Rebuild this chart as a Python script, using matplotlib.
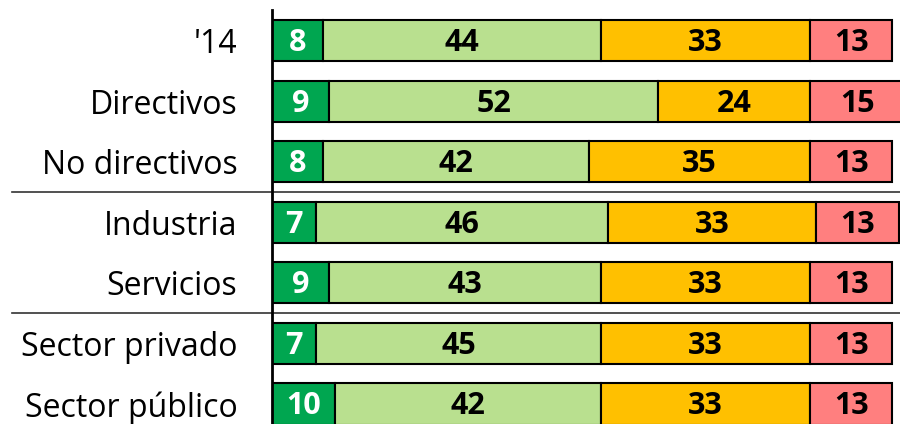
import matplotlib.pyplot as plt
import numpy as np

plt.rcParams['font.family'] = ['Open Sans', 'DejaVu Sans']

categories = ["'14", "Directivos", "No directivos", "Industria",
              "Servicios", "Sector privado", "Sector público"]
seg1 = [8, 9, 8, 7, 9, 7, 10]
seg2 = [44, 52, 42, 46, 43, 45, 42]
seg3 = [33, 24, 35, 33, 33, 33, 33]
seg4 = [13, 15, 13, 13, 13, 13, 13]
separators = [2.5, 4.5]

colors = ["#00A650", "#B9E08F", "#FFC000", "#FF7F7F"]
text_colors = ["white", "black", "black", "black"]

fig = plt.figure(figsize=(9, 4.24), dpi=100)
ax = fig.add_axes([272 / 900, 0, 628 / 900, 1 - 10 / 424])

y = np.arange(len(categories))
left = np.zeros(len(categories))
for vals, c, tc in zip([seg1, seg2, seg3, seg4], colors, text_colors):
    vals = np.array(vals)
    ax.barh(y, vals, left=left, height=0.68, color=c,
            edgecolor="black", linewidth=1.5)
    for yi, l, v in zip(y, left, vals):
        ax.text(l + v / 2, yi + 0.04, str(v), ha="center", va="center",
                color=tc, fontsize=22, fontweight="bold")
    left += vals

for s in separators:
    ax.axhline(s, xmin=-0.414, xmax=1, color="#333333", linewidth=1.2,
               clip_on=False)

ax.set_xlim(0, 99.2)
ax.set_ylim(6.33, -0.504)
ax.set_yticks(y)
ax.set_yticklabels(categories, fontsize=23)
ax.tick_params(axis="y", length=0, pad=25)
ax.set_xticks([])
for sp in ["top", "right", "bottom"]:
    ax.spines[sp].set_visible(False)
ax.spines["left"].set_linewidth(2)

fig.savefig("out.png", dpi=100)
